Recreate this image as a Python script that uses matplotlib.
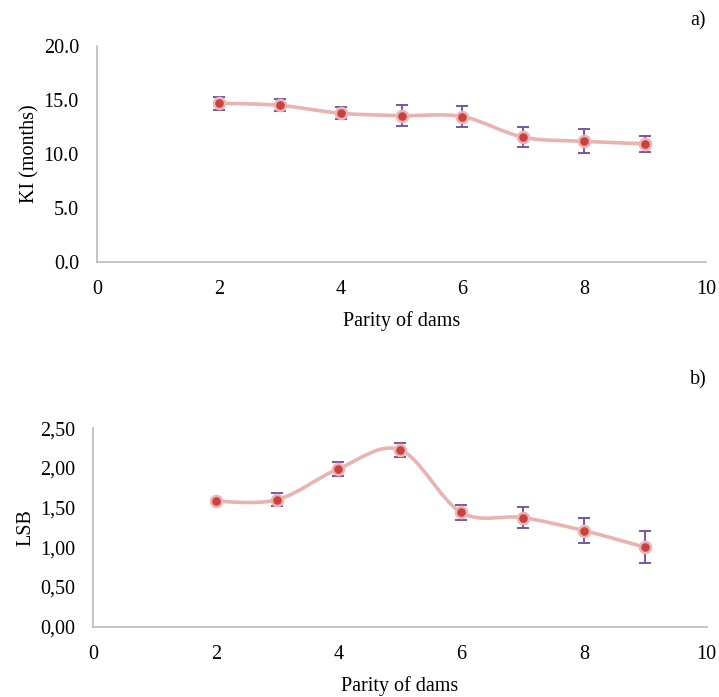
import numpy as np
import matplotlib
matplotlib.use("Agg")
import matplotlib.pyplot as plt
from matplotlib.path import Path
from matplotlib.patches import PathPatch
from matplotlib.ticker import FuncFormatter

parity = [2, 3, 4, 5, 6, 7, 8, 9]
ki_mean = [14.7, 14.5, 13.77, 13.55, 13.46, 11.55, 11.17, 10.95]
ki_err = [0.6, 0.55, 0.57, 0.95, 0.97, 0.9, 1.1, 0.75]
lsb_mean = [1.58, 1.60, 1.99, 2.23, 1.44, 1.375, 1.21, 1.00]
lsb_err = [0.02, 0.08, 0.09, 0.09, 0.09, 0.13, 0.16, 0.20]

x_ticks = [0, 2, 4, 6, 8, 10]
ki_ticks = [0, 5, 10, 15, 20]
lsb_ticks = [0, 0.5, 1.0, 1.5, 2.0, 2.5]

plt.rcParams['font.family'] = ['Liberation Serif', 'DejaVu Serif']
FS = 14.5
LINE_C = '#E9B3B1'
MARK_C = '#C9423F'
EDGE_C = '#EDB5B3'
ERR_C = '#7657A6'
SPINE_C = '#BFBFBF'


def smooth_path(xs, ys):
    P = np.column_stack([xs, ys]).astype(float)
    n = len(P)
    verts = [P[0]]
    codes = [Path.MOVETO]
    for i in range(n - 1):
        p0 = P[i - 1] if i > 0 else P[i]
        p1 = P[i]
        p2 = P[i + 1]
        p3 = P[i + 2] if i + 2 < n else P[i + 1]
        c1 = p1 + (p2 - p0) / 6.0
        c2 = p2 - (p3 - p1) / 6.0
        verts += [c1, c2, p2]
        codes += [Path.CURVE4] * 3
    return Path(verts, codes)


def panel(ax, y, err, yticks, fmt, ylabel):
    ax.add_patch(PathPatch(smooth_path(parity, y), facecolor='none',
                           edgecolor=LINE_C, lw=2.6, zorder=2, capstyle='round'))
    ax.errorbar(parity, y, yerr=err, fmt='none', ecolor=ERR_C, elinewidth=1.4,
                capsize=4, capthick=1.4, zorder=3)
    ax.plot(parity, y, 'o', color=MARK_C, markersize=8, markeredgecolor=EDGE_C,
            markeredgewidth=1.8, zorder=4, linestyle='none')
    ax.set_xlim(0, 10)
    ax.set_ylim(yticks[0], yticks[-1])
    ax.set_xticks(x_ticks)
    ax.set_yticks(yticks)
    ax.yaxis.set_major_formatter(FuncFormatter(fmt))
    for s in ['top', 'right']:
        ax.spines[s].set_visible(False)
    for s in ['left', 'bottom']:
        ax.spines[s].set_color(SPINE_C)
        ax.spines[s].set_linewidth(1.3)
    ax.tick_params(length=0, labelsize=FS, pad=13)
    ax.set_xlabel('Parity of dams', fontsize=FS, labelpad=9)
    ax.set_ylabel(ylabel, fontsize=FS, labelpad=3)
    ax.set_facecolor('white')


fig = plt.figure(figsize=(7.19, 6.97), dpi=100)
ax1 = fig.add_axes([0.1349, 0.6241, 0.8471, 0.310])
ax2 = fig.add_axes([0.1293, 0.1009, 0.8536, 0.2846])

panel(ax1, ki_mean, ki_err, ki_ticks, lambda v, p: f'{v:.1f}', 'KI (months)')
panel(ax2, lsb_mean, lsb_err, lsb_ticks, lambda v, p: f'{v:.2f}'.replace('.', ','), 'LSB')

fig.text(698 / 719, 1 - 21 / 697, 'a)', fontsize=FS, ha='center', va='center')
fig.text(698 / 719, 1 - 380 / 697, 'b)', fontsize=FS, ha='center', va='center')

fig.savefig('out.png', dpi=100, facecolor='white')
